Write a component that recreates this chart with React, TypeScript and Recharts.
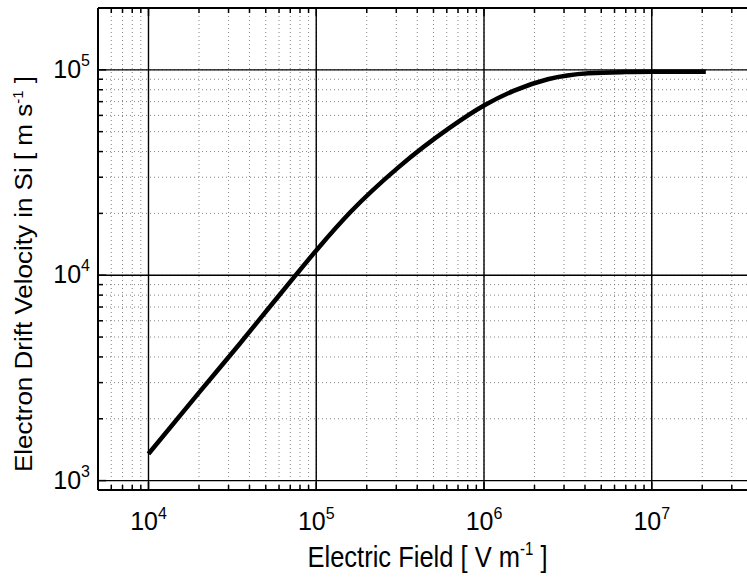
import { LineChart, Line, XAxis, YAxis, CartesianGrid, ReferenceLine, Label } from "recharts"

// electric field [V/m] and electron drift velocity [m/s]
const fieldValues = [1e4, 2e4, 3.5e4, 5.5e4, 7.5e4, 1e5, 1.6e5, 3.1e5, 6.2e5, 1e6, 1.5e6, 2.4e6, 4.2e6, 7e6, 1e7, 2.1e7]
const driftVelocity = [1350, 2680, 4640, 7300, 9950, 13200, 20300, 33600, 52000, 67000, 79000, 90000, 96300, 97500, 97800, 97800]

const xDomain = [5e3, 5e7]
const yDomain = [900, 2e5]
const xMajorTicks = [1e4, 1e5, 1e6, 1e7]
const xMinorTicks = [
  6e3, 7e3, 8e3, 9e3,
  2e4, 3e4, 4e4, 5e4, 6e4, 7e4, 8e4, 9e4,
  2e5, 3e5, 4e5, 5e5, 6e5, 7e5, 8e5, 9e5,
  2e6, 3e6, 4e6, 5e6, 6e6, 7e6, 8e6, 9e6,
  2e7, 3e7, 4e7,
]
const yMajorTicks = [1e3, 1e4, 1e5]
const yMinorTicks = [
  2e3, 3e3, 4e3, 5e3, 6e3, 7e3, 8e3, 9e3,
  2e4, 3e4, 4e4, 5e4, 6e4, 7e4, 8e4, 9e4,
  2e5,
]

const data = fieldValues.map((E, i) => ({ E, v: driftVelocity[i] }))

const FONT = "'Liberation Sans', Arial, Helvetica, sans-serif"

const exponent = (v: number) => Math.round(Math.log10(v))

function BottomTick({ x, y, payload }: any) {
  const major = xMajorTicks.includes(payload.value)
  return (
    <g>
      <line x1={x} y1={y} x2={x} y2={y - (major ? 8 : 5)} stroke="#000" strokeWidth={1.5} />
      {major && (
        <text x={x} y={y + 40} textAnchor="middle" fontSize={25} fill="#000" fontFamily={FONT}>
          10<tspan dy={-11} fontSize={16}>{exponent(payload.value)}</tspan>
        </text>
      )}
    </g>
  )
}

function TopTick({ x, y, payload }: any) {
  const major = xMajorTicks.includes(payload.value)
  return <line x1={x} y1={y} x2={x} y2={y + (major ? 8 : 5)} stroke="#000" strokeWidth={1.5} />
}

function LeftTick({ x, y, payload }: any) {
  const major = yMajorTicks.includes(payload.value)
  return (
    <g>
      <line x1={x} y1={y} x2={x + (major ? 8 : 5)} y2={y} stroke="#000" strokeWidth={1.5} />
      {major && (
        <text x={x - 8} y={y + 8} textAnchor="end" fontSize={25} fill="#000" fontFamily={FONT}>
          10<tspan dy={-12} fontSize={16}>{exponent(payload.value)}</tspan>
        </text>
      )}
    </g>
  )
}

function XTitle({ viewBox }: any) {
  const cx = viewBox.x + viewBox.width / 2 - 6
  const by = viewBox.y + 77
  return (
    <text transform={`translate(${cx}, ${by}) scale(1, 1.17)`} textAnchor="middle" fontSize={25.5} fill="#000" fontFamily={FONT}>
      Electric Field [ V m<tspan dy={-10} fontSize={15}>-1</tspan><tspan dy={10}> ]</tspan>
    </text>
  )
}

function YTitle({ viewBox }: any) {
  const cy = viewBox.y + viewBox.height / 2 + 25
  return (
    <text transform={`translate(32, ${cy}) rotate(-90) scale(1, 0.92)`} textAnchor="middle" fontSize={26} fill="#000" fontFamily={FONT}>
      Electron Drift Velocity in Si [ m s<tspan dy={-10} fontSize={15}>-1</tspan><tspan dy={10}> ]</tspan>
    </text>
  )
}

export default function App() {
  return (
    <div style={{ position: "absolute", left: 0, top: 0, width: 747, height: 578, overflow: "hidden", background: "#fff" }}>
      <LineChart width={800} height={578} data={data} margin={{ top: 7, right: 31, bottom: 0, left: 0 }}>
        <CartesianGrid stroke="#666" strokeWidth={0.8} strokeDasharray="1 3" />
        <XAxis
          dataKey="E"
          type="number"
          scale="log"
          domain={xDomain}
          allowDataOverflow
          ticks={[...xMinorTicks, ...xMajorTicks]}
          interval={0}
          height={88}
          tickSize={0}
          tickMargin={0}
          tick={(p: any) => <BottomTick {...p} />}
          axisLine={{ stroke: "#000", strokeWidth: 2 }}
        >
          <Label content={(p: any) => <XTitle {...p} />} />
        </XAxis>
        <XAxis
          xAxisId="top"
          dataKey="E"
          orientation="top"
          type="number"
          scale="log"
          domain={xDomain}
          allowDataOverflow
          ticks={[...xMinorTicks, ...xMajorTicks]}
          interval={0}
          height={1}
          tickSize={0}
          tickMargin={0}
          tick={(p: any) => <TopTick {...p} />}
          axisLine={{ stroke: "#000", strokeWidth: 2 }}
        />
        <YAxis
          type="number"
          scale="log"
          domain={yDomain}
          allowDataOverflow
          ticks={[...yMinorTicks, ...yMajorTicks]}
          interval={0}
          width={98}
          tickSize={0}
          tickMargin={0}
          tick={(p: any) => <LeftTick {...p} />}
          axisLine={{ stroke: "#000", strokeWidth: 2 }}
        >
          <Label content={(p: any) => <YTitle {...p} />} />
        </YAxis>
        {xMajorTicks.map((t) => (
          <ReferenceLine key={"x" + t} x={t} stroke="#000" strokeWidth={1.4} />
        ))}
        {yMajorTicks.map((t) => (
          <ReferenceLine key={"y" + t} y={t} stroke="#000" strokeWidth={1.4} />
        ))}
        <ReferenceLine y={yDomain[1]} stroke="#000" strokeWidth={2} />
        <Line
          type="monotone"
          dataKey="v"
          stroke="#000"
          strokeWidth={4.5}
          dot={false}
          isAnimationActive={false}
        />
      </LineChart>
    </div>
  )
}
